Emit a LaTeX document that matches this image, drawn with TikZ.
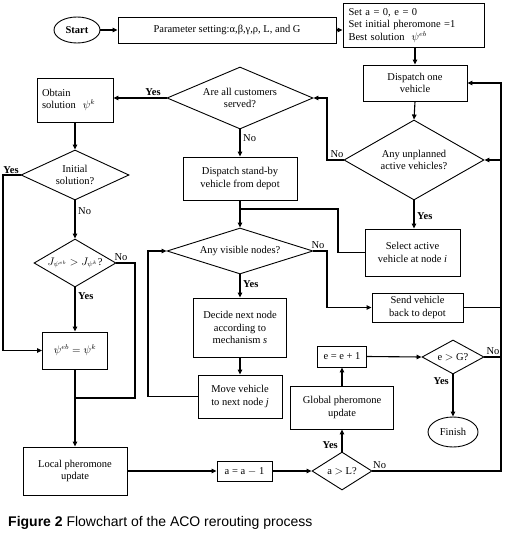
\documentclass[tikz,border=0pt]{standalone}
\usepackage{fontspec}
\setmainfont{Liberation Serif}
\newfontfamily\capfont{Liberation Sans}
\usetikzlibrary{shapes.geometric,arrows.meta}
\tikzset{
  txt/.style={font=\fontsize{10.5}{12.5}\selectfont},
  box/.style={txt, draw, rectangle, line width=0.9pt, inner sep=2pt, align=center},
  dia/.style={draw, diamond, inner sep=0pt, line width=0.9pt},
  oval/.style={txt, draw, ellipse, inner sep=0pt, line width=0.9pt},
  conn/.style={line width=1.1pt, -{Triangle[length=5pt,width=4.5pt]}},
  plain/.style={line width=1.1pt},
  yes/.style={txt, inner sep=1pt, font=\fontsize{10.5}{12.5}\selectfont\bfseries},
  no/.style={txt, inner sep=1pt}
}
\begin{document}
\begin{tikzpicture}[x=1pt,y=-1pt]
\fill[white] (0,0) rectangle (506,540);
\useasboundingbox (0,0) rectangle (506,540);

% nodes
\node[oval, minimum width=46pt, minimum height=26pt, font=\fontsize{10.5}{12.5}\selectfont\bfseries] (start) at (77,30) {Start};
\node[box, minimum width=218pt, minimum height=26pt] (param) at (227,30) {Parameter setting:α,β,γ,ρ, L, and G};
\node[box, minimum width=141pt, minimum height=44pt, align=left, text width=130pt] (setb) at (413.5,25.5) {Set a = 0, e = 0\\Set initial pheromone =1\\Best solution \ $\psi^{eb}$};
\node[box, minimum width=104pt, minimum height=36pt] (disp1) at (415,83) {Dispatch one\\vehicle};
\node[dia, minimum width=140pt, minimum height=80pt, label={[txt, align=center]center:{Any unplanned\\active vehicles?}}] (unpl) at (414,160) {};
\node[box, minimum width=95pt, minimum height=47pt] (selact) at (412.5,252.5) {Select active\\vehicle at node \textit{i}};
\node[box, minimum width=91pt, minimum height=29pt] (sendback) at (417.5,307.5) {Send vehicle\\back to depot};

\node[dia, minimum width=146pt, minimum height=62pt, label={[txt, align=center]center:{Are all customers\\served?}}] (served) at (240,98) {};
\node[box, minimum width=114pt, minimum height=43pt] (standby) at (240,178.5) {Dispatch stand-by\\vehicle from depot};
\node[dia, minimum width=146pt, minimum height=46pt, label={[txt]center:{Any visible nodes?}}] (visible) at (240,251) {};
\node[box, minimum width=93pt, minimum height=59pt] (decide) at (240,327.5) {Decide next node\\according to\\mechanism \textit{s}};
\node[box, minimum width=84pt, minimum height=43pt] (move) at (240,396.5) {Move vehicle\\to next node \textit{j}};

\node[box, minimum width=76pt, minimum height=44pt, align=left, text width=66pt] (obtain) at (75,100) {Obtain\\solution \ $\psi^{k}$};
\node[dia, minimum width=108pt, minimum height=50pt, label={[txt, align=center]center:{Initial\\solution?}}] (initial) at (75,175) {};
\node[dia, minimum width=82pt, minimum height=48pt, label={[txt]center:{$J_{\psi^{eb}}>J_{\psi^{k}}$?}}] (compare) at (75,263) {};
\node[box, minimum width=65pt, minimum height=37pt] (psi) at (75,350.5) {$\psi^{eb}=\psi^{k}$};
\node[box, minimum width=104pt, minimum height=48pt] (local) at (75,471) {Local pheromone\\update};

\node[box, minimum width=55pt, minimum height=20pt] (adec) at (244.5,471) {a = a $-$ 1};
\node[dia, minimum width=60pt, minimum height=38pt, label={[txt]center:{a $>$ L?}}] (aL) at (342,471) {};
\node[box, minimum width=103pt, minimum height=43pt] (glob) at (342,407.5) {Global pheromone\\update};
\node[box, minimum width=49pt, minimum height=21pt] (einc) at (342,356.5) {e = e + 1};
\node[dia, minimum width=62pt, minimum height=34pt, label={[txt]center:{e $>$ G?}}] (eG) at (453,357) {};
\node[oval, minimum width=50pt, minimum height=30pt] (finish) at (453,432) {Finish};

% helper coordinates
\coordinate (cL) at (3,0);
\coordinate (cC) at (135,0);
\coordinate (j1) at (75,398);
\coordinate (cV) at (148,0);
\coordinate (cM) at (327,0);
\coordinate (cS) at (338,0);
\coordinate (j2) at (240,209);
\coordinate (cR) at (501,0);

% connectors
\draw[conn] (start.east) -- (param.west);
\draw[conn] (param.east) -- (param.east -| setb.west);
\draw[conn] (setb.south -| disp1.north) -- (disp1.north);
\draw[conn] (disp1.south) -- (unpl.north);
\draw[conn] (unpl.south) -- (unpl.south |- selact.north);
\node[yes, anchor=west] (l1) at (416,216) {Yes};
\draw[conn] (unpl.west) -- (unpl.west -| cM) |- (served.east);
\node[no, anchor=south] (l2) at (337,159) {No};
\draw[conn] (served.west) -- (served.west -| obtain.east);
\node[yes, anchor=south] (l3) at (153,97) {Yes};
\draw[conn] (served.south) -- (standby.north);
\node[no, anchor=west] (l4) at (242,138) {No};
\draw[conn] (obtain.south) -- (initial.north);
\draw[conn] (initial.west) -- (initial.west -| cL) |- (psi.west);
\node[yes, anchor=south] (l5) at (11,175) {Yes};
\draw[conn] (initial.south) -- (compare.north);
\node[no, anchor=west] (l6) at (77,211) {No};
\draw[conn] (compare.south) -- (psi.north);
\node[yes, anchor=west] (l7) at (77,296) {Yes};
\draw[plain] (compare.east) -- (compare.east -| cC) |- (j1);
\node[no, anchor=south] (l8) at (121,262) {No};
\draw[conn] (psi.south) -- (local.north);
\draw[conn] (local.east) -- (adec.west);
\draw[conn] (adec.east) -- (aL.west);
\draw[conn] (aL.north) -- (glob.south);
\node[yes, anchor=east] (l9) at (339,445) {Yes};
\draw[conn] (glob.north) -- (einc.south);
\draw[conn] (einc.east) -- (eG.west);
\draw[conn] (eG.south) -- (finish.north);
\node[yes, anchor=east] (l10) at (450,381) {Yes};
\draw[plain] (eG.east) -- (eG.east -| cR);
\node[no, anchor=south] (l11) at (493,356) {No};
\draw[conn] (aL.east) -- (aL.east -| cR) |- (disp1.east);
\node[no, anchor=south west] (l12) at (372,470) {No};
\draw[conn] (cR |- unpl.east) -- (unpl.east);
\draw[plain] (sendback.east) -- (sendback.east -| cR);
\draw[conn] (standby.south) -- (visible.north);
\draw[plain] (selact.west) -- (selact.west -| cS) |- (j2);
\draw[conn] (visible.east) -- (visible.east -| cM) |- (sendback.west);
\node[no, anchor=south] (l13) at (318,250) {No};
\draw[conn] (visible.south) -- (decide.north);
\node[yes, anchor=west] (l14) at (242,284) {Yes};
\draw[conn] (decide.south) -- (move.north);
\draw[conn] (move.west) -- (move.west -| cV) |- (visible.west);

% caption
\node[anchor=west, inner sep=0pt, font=\capfont\fontsize{14}{16}\selectfont] (cap) at (8,523) {\textbf{Figure 2} Flowchart of the ACO rerouting process};
\end{tikzpicture}
\end{document}
